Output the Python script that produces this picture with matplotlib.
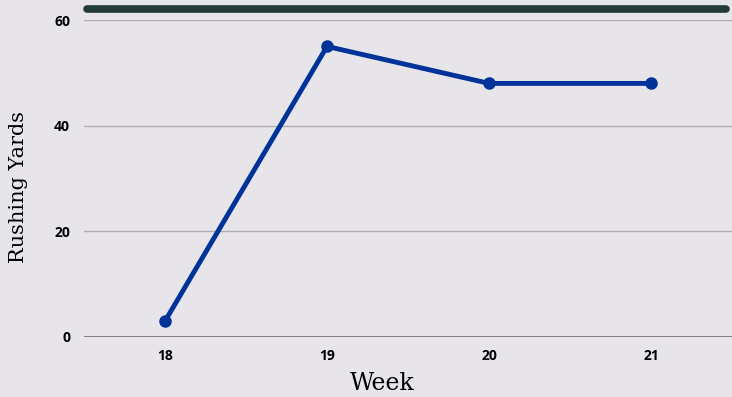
import matplotlib.pyplot as plt

weeks = [18, 19, 20, 21]
rushing_yards = [3, 55, 48, 48]
y_ticks = [0, 20, 40, 60]

BG = "#e7e5ea"
LINE = "#003399"

fig = plt.figure(figsize=(7.32, 3.97), dpi=100, facecolor=BG)
ax = fig.add_axes([84 / 732, 60 / 397, 648 / 732, 317 / 397], facecolor=BG)

ax.plot(weeks, rushing_yards, color=LINE, linewidth=3.5, marker="o",
        markersize=8, solid_capstyle="round", zorder=3)

ax.set_xlim(17.5, 21.5)
ax.set_ylim(0, 60)
ax.set_xticks(weeks)
ax.set_yticks(y_ticks)
ax.set_xticklabels([str(w) for w in weeks], fontsize=10, fontweight="bold",
                   family="Open Sans")
ax.set_yticklabels([str(t) for t in y_ticks], fontsize=10, fontweight="bold",
                   family="Open Sans")
ax.tick_params(length=0, pad=9)
ax.tick_params(axis="y", pad=10)

ax.grid(axis="y", color="#b0aeb3", linewidth=1)
ax.set_axisbelow(True)
for s in ax.spines.values():
    s.set_visible(False)
ax.axhline(0, color="#6f6d72", linewidth=1.2, zorder=2)

# dark rule across the top
ax.plot([0.005, 0.991], [1.036, 1.036], transform=ax.transAxes, color="#243b35",
        linewidth=5.5, solid_capstyle="round", clip_on=False)

ax.set_xlabel("Week", fontsize=17, family="DejaVu Serif")
ax.set_ylabel("Rushing Yards", fontsize=15, family="DejaVu Serif")
ax.xaxis.set_label_coords(0.46, -0.11)
ax.yaxis.set_label_coords(-0.087, 0.473)

fig.savefig("out.png", dpi=100, facecolor=BG)
